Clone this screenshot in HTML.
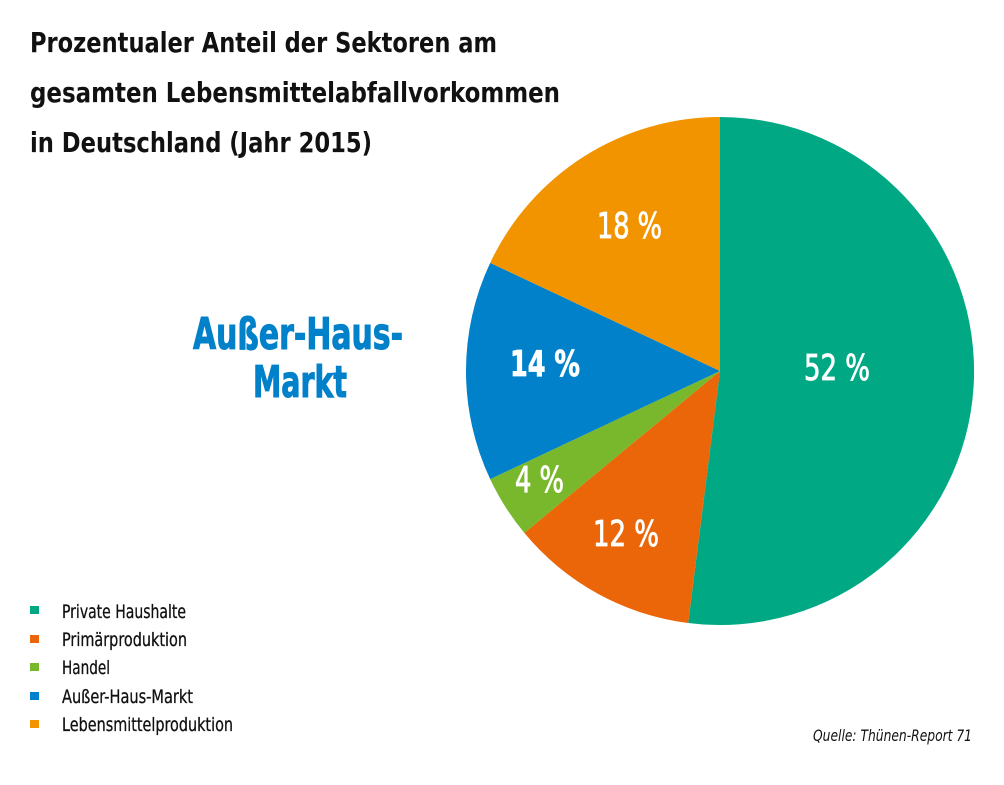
<!DOCTYPE html>
<html>
<head>
<meta charset="utf-8">
<style>
  html, body { margin: 0; padding: 0; background: #ffffff; }
  body { width: 1004px; height: 785px; overflow: hidden; }
  svg { display: block; }
  text { font-family: "Liberation Sans Narrow", "DejaVu Sans Condensed", "Liberation Sans", sans-serif; }
</style>
</head>
<body>
<svg width="1004" height="785" viewBox="0 0 1004 785" xmlns="http://www.w3.org/2000/svg">
  <rect x="0" y="0" width="1004" height="785" fill="#ffffff"/>

  <!-- Title -->
  <g fill="#111111" font-size="28" font-weight="bold">
    <text x="30" y="52" textLength="467" lengthAdjust="spacingAndGlyphs">Prozentualer Anteil der Sektoren am</text>
    <text x="30" y="102" textLength="530" lengthAdjust="spacingAndGlyphs">gesamten Lebensmittelabfallvorkommen</text>
    <text x="30" y="152" textLength="342" lengthAdjust="spacingAndGlyphs">in Deutschland (Jahr 2015)</text>
  </g>

  <!-- Pie -->
  <path d="M720,371 L720,117 A254,254 0 1,1 688.17,622.99 Z" fill="#00A984"/>
  <path d="M720,371 L688.17,622.99 A254,254 0 0,1 524.29,532.91 Z" fill="#EB6608"/>
  <path d="M720,371 L524.29,532.91 A254,254 0 0,1 490.17,479.15 Z" fill="#79B82C"/>
  <path d="M720,371 L490.17,479.15 A254,254 0 0,1 490.17,262.85 Z" fill="#0081C9"/>
  <path d="M720,371 L490.17,262.85 A254,254 0 0,1 720,117 Z" fill="#F29400"/>

  <!-- Pie labels -->
  <g fill="#ffffff" stroke="#ffffff" stroke-width="0.8" font-size="36">
    <text x="804" y="380" textLength="66" lengthAdjust="spacingAndGlyphs">52 %</text>
    <text x="597" y="238" textLength="65" lengthAdjust="spacingAndGlyphs">18 %</text>
    <text x="510" y="376" textLength="70" lengthAdjust="spacingAndGlyphs" font-weight="bold">14 %</text>
    <text x="515" y="492" textLength="49" lengthAdjust="spacingAndGlyphs">4 %</text>
    <text x="593" y="546" textLength="66" lengthAdjust="spacingAndGlyphs">12 %</text>
  </g>

  <!-- Highlight label -->
  <g fill="#0081C9" stroke="#0081C9" stroke-width="1" font-size="44" font-weight="bold">
    <text x="193" y="349" textLength="210" lengthAdjust="spacingAndGlyphs">Außer-Haus-</text>
    <text x="253" y="397" textLength="94" lengthAdjust="spacingAndGlyphs">Markt</text>
  </g>

  <!-- Legend -->
  <rect x="30" y="606" width="9" height="8" fill="#00A984"/>
  <rect x="30" y="635" width="9" height="8" fill="#EB6608"/>
  <rect x="30" y="663" width="9" height="8" fill="#79B82C"/>
  <rect x="30" y="692" width="9" height="8" fill="#0081C9"/>
  <rect x="30" y="720" width="9" height="8" fill="#F29400"/>
  <g fill="#111111" stroke="#111111" stroke-width="0.3" font-size="19">
    <text x="62" y="618" textLength="124" lengthAdjust="spacingAndGlyphs">Private Haushalte</text>
    <text x="62" y="646" textLength="125" lengthAdjust="spacingAndGlyphs">Primärproduktion</text>
    <text x="62" y="674" textLength="48" lengthAdjust="spacingAndGlyphs">Handel</text>
    <text x="62" y="703" textLength="131" lengthAdjust="spacingAndGlyphs">Außer-Haus-Markt</text>
    <text x="62" y="731" textLength="171" lengthAdjust="spacingAndGlyphs">Lebensmittelproduktion</text>
  </g>

  <!-- Source -->
  <text x="813" y="741" font-size="16" font-style="italic" fill="#111111" textLength="159" lengthAdjust="spacingAndGlyphs">Quelle: Thünen-Report 71</text>
</svg>
</body>
</html>
